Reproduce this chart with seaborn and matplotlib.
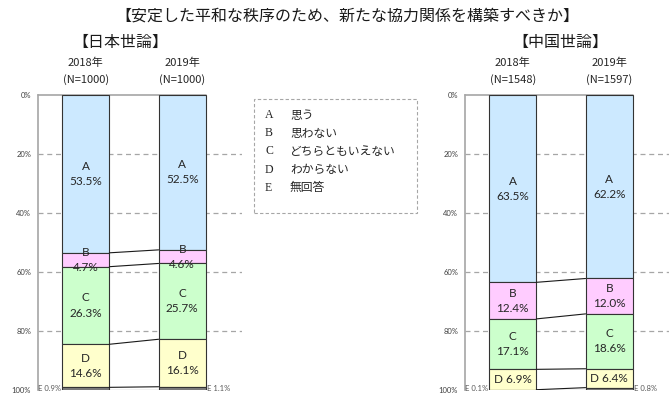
import numpy as np
import pandas as pd
import seaborn as sns
import matplotlib.pyplot as plt
from matplotlib.patches import Rectangle

title = "【安定した平和な秩序のため、新たな協力関係を構築すべきか】"
cats = ["A", "B", "C", "D", "E"]
cat_names = ["思う", "思わない", "どちらともいえない", "わからない", "無回答"]
years = ["2018年", "2019年"]

jp_header = "【日本世論】"
jp_n = ["(N=1000)", "(N=1000)"]
jp_2018 = [53.5, 4.7, 26.3, 14.6, 0.9]
jp_2019 = [52.5, 4.6, 25.7, 16.1, 1.1]

cn_header = "【中国世論】"
cn_n = ["(N=1548)", "(N=1597)"]
cn_2018 = [63.5, 12.4, 17.1, 6.9, 0.1]
cn_2019 = [62.2, 12.0, 18.6, 6.4, 0.8]

colors = ["#CCE9FF", "#FFCCFF", "#CCFFCC", "#FFFFCC", "#7F7F7F"]

sns.set_style("white")
plt.rcParams["font.family"] = ["Noto Sans CJK JP", "DejaVu Sans"]
num_font = ["Lato", "DejaVu Sans"]

W = 0.49
XLIM = (-0.495, 1.62)
GRID = "#A6A6A6"


def draw_panel(ax, n_list, v2018, v2019, one_line):
    df = pd.DataFrame({
        "year": np.repeat(years, len(cats)),
        "cat": cats * 2,
        "value": v2018 + v2019,
    })
    df["bottom"] = df.groupby("year")["value"].cumsum() - df["value"]

    for i, c in enumerate(cats):
        sub = df[df["cat"] == c]
        sns.barplot(data=sub, x="year", y="value", order=years,
                    bottom=sub["bottom"].to_numpy(), color=colors[i],
                    saturation=1, width=W, edgecolor="#333333",
                    linewidth=0.8, errorbar=None, ax=ax, zorder=3)

    # series lines between the two bars
    cum18 = np.cumsum(v2018)
    cum19 = np.cumsum(v2019)
    for a, b in zip(cum18, cum19):
        ax.plot([W / 2, 1 - W / 2], [a, b], color="#1a1a1a", lw=0.8, zorder=4)

    # segment labels
    for j, vals in enumerate([v2018, v2019]):
        bottoms = np.cumsum(vals) - np.array(vals)
        for c, v, b in zip(cats[:-1], vals[:-1], bottoms[:-1]):
            sep = " " if c in one_line else "\n"
            ax.text(j, b + v / 2, f"{c}{sep}{v:.1f}%", ha="center", va="center",
                    fontsize=8.5, linespacing=1.45, color="#262626",
                    family=num_font, zorder=5)
    ax.text(-W / 2 - 0.01, 99.6, f"E {v2018[-1]:.1f}%", ha="right", va="center",
            fontsize=5.5, color="#595959", family=num_font, zorder=5)
    ax.text(1 + W / 2 + 0.01, 99.6, f"E {v2019[-1]:.1f}%", ha="left", va="center",
            fontsize=5.5, color="#595959", family=num_font, zorder=5)

    # grid
    for y in [20, 40, 60, 80]:
        ax.axhline(y, ls=(0, (4, 3)), color=GRID, lw=0.9, zorder=0)
    ax.plot([XLIM[0], 1 + W / 2], [0, 0], color=GRID, lw=1.2, zorder=2,
            clip_on=False)

    ax.set_xlim(*XLIM)
    ax.set_ylim(100, 0)
    ax.set_xticks([])
    ax.set_xlabel("")
    ax.set_ylabel("")
    ax.set_yticks(range(0, 101, 20))
    ax.set_yticklabels([f"{t}%" for t in range(0, 101, 20)], fontsize=5.5,
                       family=num_font)
    ax.tick_params(axis="y", length=3, width=0.8, color=GRID,
                   labelcolor="#404040", pad=2)
    for s in ["top", "right", "bottom"]:
        ax.spines[s].set_visible(False)
    ax.spines["left"].set_color(GRID)
    ax.spines["left"].set_linewidth(1.2)

    # headers
    tr = ax.get_xaxis_transform()
    for j in range(2):
        ax.text(j, 1.108, years[j], transform=tr, ha="center", va="center",
                fontsize=8, color="#262626")
        ax.text(j, 1.052, n_list[j], transform=tr, ha="center", va="center",
                fontsize=8, color="#262626")


fig = plt.figure(figsize=(6.7, 4), dpi=100)
ax1 = fig.add_axes([38 / 670, 0.025, 204 / 670, 0.7375])
ax2 = fig.add_axes([465 / 670, 0.025, 204 / 670, 0.7375])

draw_panel(ax1, jp_n, jp_2018, jp_2019, one_line=set())
draw_panel(ax2, cn_n, cn_2018, cn_2019, one_line={"D"})

fig.text(0.518, 1 - 16 / 400, title, ha="center", va="center", fontsize=11.5,
         color="#1a1a1a")
fig.text(120 / 670, 1 - 42 / 400, jp_header, ha="center", va="center",
         fontsize=11.5, color="#1a1a1a")
fig.text(560 / 670, 1 - 42 / 400, cn_header, ha="center", va="center",
         fontsize=11.5, color="#1a1a1a")

# legend box (text only)
fig.patches.append(Rectangle((254 / 670, 1 - 213 / 400), 163 / 670, 114 / 400,
                             transform=fig.transFigure, fill=False,
                             edgecolor=GRID, ls=(0, (3, 2)), lw=0.8))
for k, (c, name) in enumerate(zip(cats, cat_names)):
    y = 1 - (115 + 18.2 * k) / 400
    fig.text(265 / 670, y, c, ha="left", va="center", fontsize=8.5,
             family=["Liberation Serif", "DejaVu Serif"], color="#262626")
    fig.text(290 / 670, y, name, ha="left", va="center", fontsize=8.5,
             color="#262626")

fig.savefig("out.png", dpi=100)
